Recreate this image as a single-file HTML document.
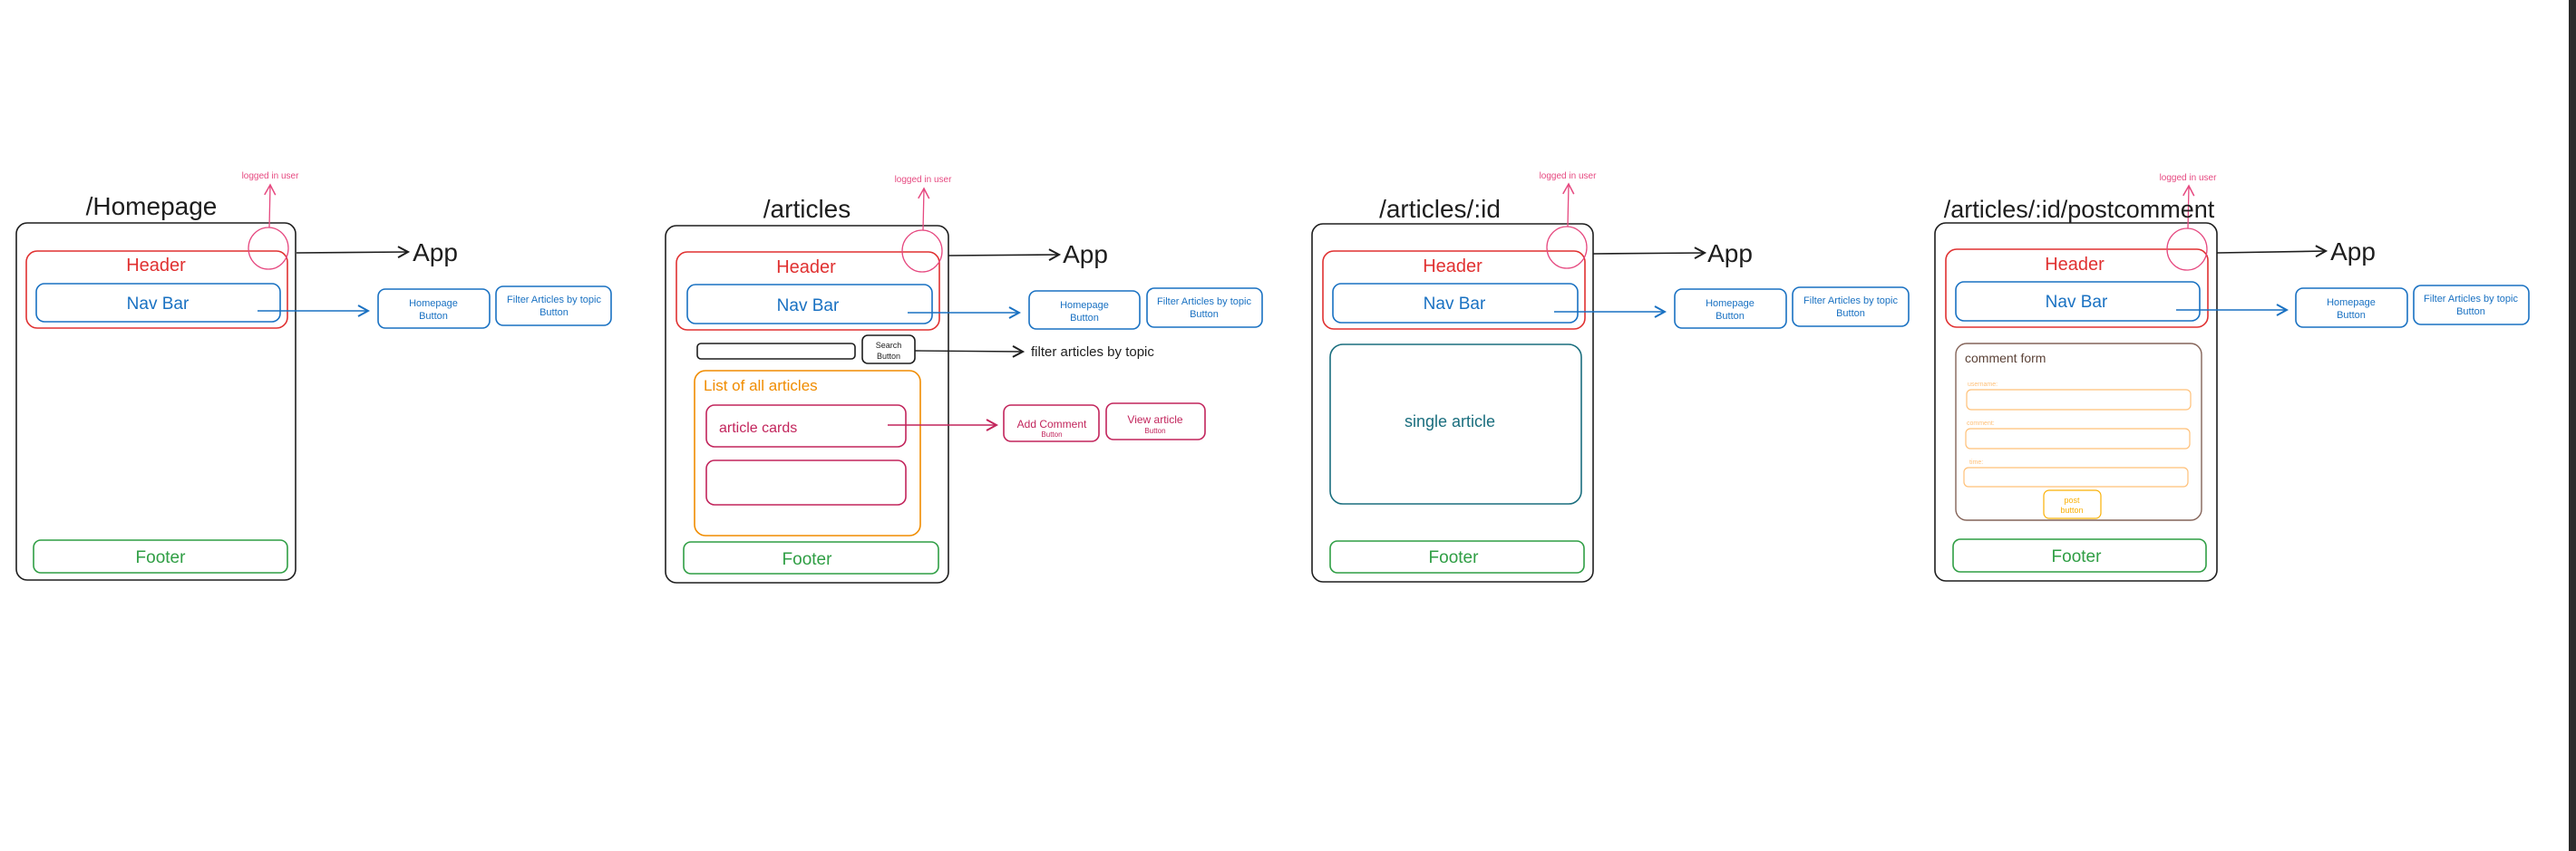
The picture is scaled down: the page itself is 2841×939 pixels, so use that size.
<!DOCTYPE html>
<html><head><meta charset="utf-8"><style>
html,body{margin:0;padding:0;background:#fff;}
svg{display:block;}
text{font-family:"Liberation Sans",sans-serif;}
</style></head><body>
<svg width="2841" height="939" viewBox="0 0 2841 939" xmlns="http://www.w3.org/2000/svg">
<defs>
<marker id="ak" markerWidth="14" markerHeight="14" refX="12" refY="7" orient="auto" markerUnits="userSpaceOnUse"><path d="M1,1 L12,7 L1,13" fill="none" stroke="#1e1e1e" stroke-width="2"/></marker>
<marker id="ab" markerWidth="14" markerHeight="14" refX="12" refY="7" orient="auto" markerUnits="userSpaceOnUse"><path d="M1,1 L12,7 L1,13" fill="none" stroke="#1971c2" stroke-width="2"/></marker>
<marker id="ap" markerWidth="14" markerHeight="14" refX="12" refY="7" orient="auto" markerUnits="userSpaceOnUse"><path d="M1,1 L12,7 L1,13" fill="none" stroke="#e64980" stroke-width="1.5"/></marker>
<marker id="ac" markerWidth="14" markerHeight="14" refX="12" refY="7" orient="auto" markerUnits="userSpaceOnUse"><path d="M1,1 L12,7 L1,13" fill="none" stroke="#c2255c" stroke-width="2"/></marker>
</defs>
<rect x="2833" y="0" width="8" height="939" fill="#2b2b2b"/>
<g fill="none" stroke-width="1.6">
<!-- Panel 1 -->
<rect x="18" y="246" width="308" height="394" rx="12" stroke="#1e1e1e"/>
<rect x="29" y="277" width="288" height="85" rx="12" stroke="#e03131"/>
<rect x="40" y="313" width="269" height="42" rx="9" stroke="#1971c2"/>
<rect x="37" y="596" width="280" height="36" rx="8" stroke="#2f9e44"/>
<ellipse cx="296" cy="274" rx="22" ry="23" stroke="#e64980" stroke-width="1.3"/>
<line x1="297" y1="251" x2="298" y2="204" stroke="#e64980" stroke-width="1.3" marker-end="url(#ap)"/>
<line x1="327" y1="279" x2="450" y2="278" stroke="#1e1e1e" marker-end="url(#ak)"/>
<line x1="284" y1="343" x2="406" y2="343" stroke="#1971c2" marker-end="url(#ab)"/>
<rect x="417" y="319" width="123" height="43" rx="8" stroke="#1971c2"/>
<rect x="547" y="316" width="127" height="43" rx="8" stroke="#1971c2"/>
<!-- Panel 2 -->
<rect x="734" y="249" width="312" height="394" rx="12" stroke="#1e1e1e"/>
<rect x="746" y="278" width="290" height="86" rx="12" stroke="#e03131"/>
<rect x="758" y="314" width="270" height="43" rx="9" stroke="#1971c2"/>
<rect x="754" y="598" width="281" height="35" rx="8" stroke="#2f9e44"/>
<ellipse cx="1017" cy="277" rx="22" ry="23" stroke="#e64980" stroke-width="1.3"/>
<line x1="1018" y1="254" x2="1019" y2="208" stroke="#e64980" stroke-width="1.3" marker-end="url(#ap)"/>
<line x1="1046" y1="282" x2="1168" y2="281" stroke="#1e1e1e" marker-end="url(#ak)"/>
<line x1="1001" y1="345" x2="1124" y2="345" stroke="#1971c2" marker-end="url(#ab)"/>
<rect x="1135" y="321" width="122" height="42" rx="8" stroke="#1971c2"/>
<rect x="1265" y="318" width="127" height="43" rx="8" stroke="#1971c2"/>
<rect x="769" y="379" width="174" height="17" rx="4" stroke="#1e1e1e"/>
<rect x="951" y="370" width="58" height="31" rx="6" stroke="#1e1e1e"/>
<line x1="1009" y1="387" x2="1128" y2="388" stroke="#1e1e1e" stroke-width="1.4" marker-end="url(#ak)"/>
<rect x="766" y="409" width="249" height="182" rx="12" stroke="#f08c00"/>
<rect x="779" y="447" width="220" height="46" rx="9" stroke="#c2255c"/>
<rect x="779" y="508" width="220" height="49" rx="9" stroke="#c2255c"/>
<line x1="979" y1="469" x2="1099" y2="469" stroke="#c2255c" marker-end="url(#ac)"/>
<rect x="1107" y="447" width="105" height="40" rx="8" stroke="#c2255c"/>
<rect x="1220" y="445" width="109" height="40" rx="8" stroke="#c2255c"/>
<!-- Panel 3 -->
<rect x="1447" y="247" width="310" height="395" rx="12" stroke="#1e1e1e"/>
<rect x="1459" y="277" width="289" height="86" rx="12" stroke="#e03131"/>
<rect x="1470" y="313" width="270" height="43" rx="9" stroke="#1971c2"/>
<rect x="1467" y="597" width="280" height="35" rx="8" stroke="#2f9e44"/>
<rect x="1467" y="380" width="277" height="176" rx="14" stroke="#1a6e7e"/>
<ellipse cx="1728" cy="273" rx="22" ry="23" stroke="#e64980" stroke-width="1.3"/>
<line x1="1729" y1="250" x2="1730" y2="203" stroke="#e64980" stroke-width="1.3" marker-end="url(#ap)"/>
<line x1="1757" y1="280" x2="1880" y2="279" stroke="#1e1e1e" marker-end="url(#ak)"/>
<line x1="1714" y1="344" x2="1836" y2="344" stroke="#1971c2" marker-end="url(#ab)"/>
<rect x="1847" y="319" width="123" height="43" rx="8" stroke="#1971c2"/>
<rect x="1977" y="317" width="128" height="43" rx="8" stroke="#1971c2"/>
<!-- Panel 4 -->
<rect x="2134" y="246" width="311" height="395" rx="12" stroke="#1e1e1e"/>
<rect x="2146" y="275" width="289" height="86" rx="12" stroke="#e03131"/>
<rect x="2157" y="311" width="269" height="43" rx="9" stroke="#1971c2"/>
<rect x="2154" y="595" width="279" height="36" rx="8" stroke="#2f9e44"/>
<rect x="2157" y="379" width="271" height="195" rx="12" stroke="#846358" stroke-width="1.4"/>
<rect x="2169" y="430" width="247" height="22" rx="5" stroke="#ffc078" stroke-width="1.2"/>
<rect x="2168" y="473" width="247" height="22" rx="5" stroke="#ffc078" stroke-width="1.2"/>
<rect x="2166" y="516" width="247" height="21" rx="5" stroke="#ffc078" stroke-width="1.2"/>
<rect x="2254" y="541" width="63" height="31" rx="6" stroke="#fab005" stroke-width="1.2"/>
<ellipse cx="2412" cy="275" rx="22" ry="23" stroke="#e64980" stroke-width="1.3"/>
<line x1="2413" y1="252" x2="2414" y2="205" stroke="#e64980" stroke-width="1.3" marker-end="url(#ap)"/>
<line x1="2445" y1="279" x2="2565" y2="277" stroke="#1e1e1e" marker-end="url(#ak)"/>
<line x1="2400" y1="342" x2="2522" y2="342" stroke="#1971c2" marker-end="url(#ab)"/>
<rect x="2532" y="318" width="123" height="43" rx="8" stroke="#1971c2"/>
<rect x="2662" y="315" width="127" height="43" rx="8" stroke="#1971c2"/>
</g>
<g text-anchor="middle">
<text x="167" y="237" font-size="28" fill="#1e1e1e">/Homepage</text>
<text x="298" y="197" font-size="10" fill="#e64980">logged in user</text>
<text x="172" y="299" font-size="20" fill="#e03131">Header</text>
<text x="174" y="341" font-size="19" fill="#1971c2">Nav Bar</text>
<text x="177" y="621" font-size="19" fill="#2f9e44">Footer</text>
<text x="480" y="288" font-size="28" fill="#1e1e1e">App</text>
<text x="478" y="338" font-size="11" fill="#1971c2">Homepage</text>
<text x="478" y="352" font-size="11" fill="#1971c2">Button</text>
<text x="611" y="334" font-size="11" fill="#1971c2">Filter Articles by topic</text>
<text x="611" y="348" font-size="11" fill="#1971c2">Button</text>
<text x="890" y="240" font-size="28" fill="#1e1e1e">/articles</text>
<text x="1018" y="201" font-size="10" fill="#e64980">logged in user</text>
<text x="889" y="301" font-size="20" fill="#e03131">Header</text>
<text x="891" y="343" font-size="19" fill="#1971c2">Nav Bar</text>
<text x="890" y="623" font-size="19" fill="#2f9e44">Footer</text>
<text x="1197" y="290" font-size="28" fill="#1e1e1e">App</text>
<text x="1196" y="340" font-size="11" fill="#1971c2">Homepage</text>
<text x="1196" y="354" font-size="11" fill="#1971c2">Button</text>
<text x="1328" y="336" font-size="11" fill="#1971c2">Filter Articles by topic</text>
<text x="1328" y="350" font-size="11" fill="#1971c2">Button</text>
<text x="980" y="384" font-size="9" fill="#1e1e1e">Search</text>
<text x="980" y="396" font-size="9" fill="#1e1e1e">Button</text>
<text x="1160" y="472" font-size="12" fill="#c2255c">Add Comment</text>
<text x="1160" y="482" font-size="8" fill="#c2255c">Button</text>
<text x="1274" y="467" font-size="12" fill="#c2255c">View article</text>
<text x="1274" y="478" font-size="8" fill="#c2255c">Button</text>
</g>
<g>
<text x="1137" y="393" font-size="15" fill="#1e1e1e">filter articles by topic</text>
<text x="776" y="431" font-size="17" fill="#f08c00">List of all articles</text>
<text x="793" y="477" font-size="16" fill="#c2255c">article cards</text>
<text x="2167" y="400" font-size="14" fill="#5c4338">comment form</text>
<text x="2170" y="426" font-size="7" fill="#ffc078">username:</text>
<text x="2169" y="469" font-size="7" fill="#ffc078">comment:</text>
<text x="2172" y="512" font-size="7" fill="#ffc078">time:</text>
</g>
<g text-anchor="middle">
<text x="1588" y="240" font-size="28" fill="#1e1e1e">/articles/:id</text>
<text x="1729" y="197" font-size="10" fill="#e64980">logged in user</text>
<text x="1602" y="300" font-size="20" fill="#e03131">Header</text>
<text x="1604" y="341" font-size="19" fill="#1971c2">Nav Bar</text>
<text x="1603" y="621" font-size="19" fill="#2f9e44">Footer</text>
<text x="1599" y="471" font-size="18" fill="#1a6e7e">single article</text>
<text x="1908" y="289" font-size="28" fill="#1e1e1e">App</text>
<text x="1908" y="338" font-size="11" fill="#1971c2">Homepage</text>
<text x="1908" y="352" font-size="11" fill="#1971c2">Button</text>
<text x="2041" y="335" font-size="11" fill="#1971c2">Filter Articles by topic</text>
<text x="2041" y="349" font-size="11" fill="#1971c2">Button</text>
<text x="2293" y="240" font-size="27" fill="#1e1e1e">/articles/:id/postcomment</text>
<text x="2413" y="199" font-size="10" fill="#e64980">logged in user</text>
<text x="2288" y="298" font-size="20" fill="#e03131">Header</text>
<text x="2290" y="339" font-size="19" fill="#1971c2">Nav Bar</text>
<text x="2290" y="620" font-size="19" fill="#2f9e44">Footer</text>
<text x="2285" y="555" font-size="9" fill="#fab005">post</text>
<text x="2285" y="566" font-size="9" fill="#fab005">button</text>
<text x="2595" y="287" font-size="28" fill="#1e1e1e">App</text>
<text x="2593" y="337" font-size="11" fill="#1971c2">Homepage</text>
<text x="2593" y="351" font-size="11" fill="#1971c2">Button</text>
<text x="2725" y="333" font-size="11" fill="#1971c2">Filter Articles by topic</text>
<text x="2725" y="347" font-size="11" fill="#1971c2">Button</text>
</g>
</svg>
</body></html>
